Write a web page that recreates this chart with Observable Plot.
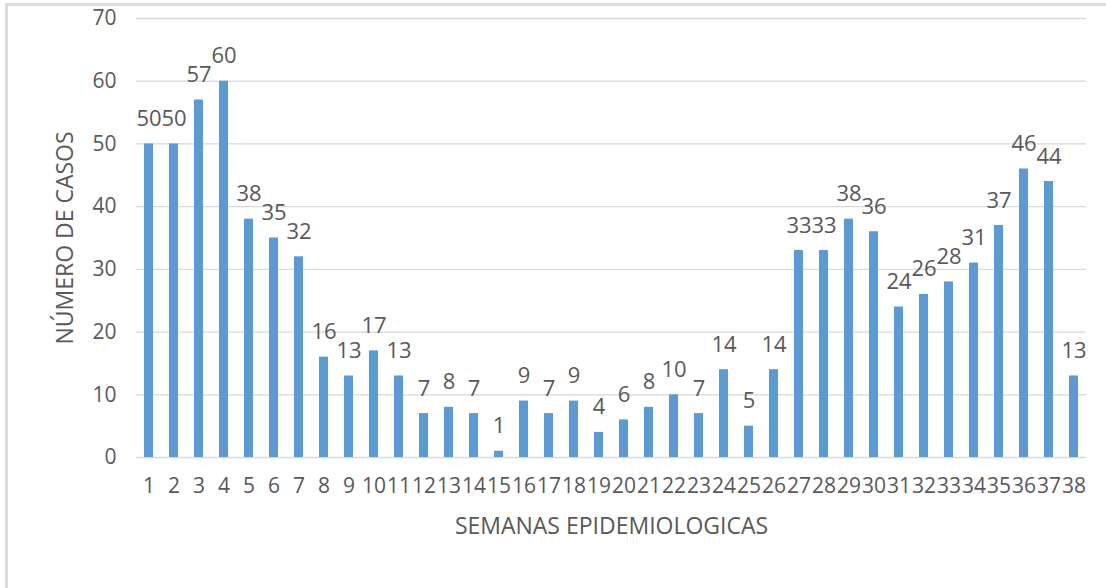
<!DOCTYPE html>
<html>
<head>
<meta charset="utf-8">
<script src="https://cdn.jsdelivr.net/npm/d3@7"></script>
<script src="https://cdn.jsdelivr.net/npm/@observablehq/plot@0.6"></script>
<style>
  html, body { margin: 0; padding: 0; background: #fff; }
  #wrap { position: relative; width: 1106px; height: 588px; overflow: hidden; }
  #frame { position: absolute; left: 5px; top: 3px; right: -10px; bottom: -10px;
           border-left: 3px solid #dcdcdc; border-top: 3px solid #dcdcdc; pointer-events: none; }
  svg g[aria-label="y-axis tick label"], svg g[aria-label="x-axis tick label"] { font-size: 21px; }
  svg g[aria-label="y-axis tick label"] text, svg g[aria-label="x-axis tick label"] text { font-size: 21px; }
  svg g[aria-label="y-axis label"] text, svg g[aria-label="x-axis label"] text { font-size: 23px; }
</style>
</head>
<body>
<div id="wrap"><div id="frame"></div></div>
<script>
const semanas = Array.from({length: 38}, (_, i) => String(i + 1));
const casos = [50,50,57,60,38,35,32,16,13,17,13,7,8,7,1,9,7,9,4,6,8,10,7,14,5,14,33,33,38,36,24,26,28,31,37,46,44,13];
const yTicks = [0,10,20,30,40,50,60,70];
const yTitle = "NÚMERO DE CASOS";
const xTitle = "SEMANAS EPIDEMIOLOGICAS";

const data = semanas.map((s, i) => ({semana: s, casos: casos[i]}));
const font = "'Open Sans', sans-serif";

const chart = Plot.plot({
  width: 1106,
  height: 588,
  marginLeft: 136,
  marginRight: 20,
  marginTop: 18,
  marginBottom: 131,
  style: {fontFamily: font, color: "#595959", background: "transparent"},
  x: {domain: semanas, paddingInner: 0.66, paddingOuter: 0.33, label: null},
  y: {domain: [0, 70], label: null},
  marks: [
    Plot.ruleY(yTicks, {stroke: "#d9d9d9", strokeWidth: 1.3}),
    Plot.axisY({ticks: yTicks, tickSize: 0, tickPadding: 20, label: yTitle,
      labelAnchor: "center", labelArrow: "none", labelOffset: 80}),
    Plot.axisX({tickSize: 0, tickPadding: 21, label: xTitle,
      labelAnchor: "center", labelArrow: "none", labelOffset: 76}),
    Plot.barY(data, {x: "semana", y: "casos", fill: "#5b9bd5"}),
    Plot.text(data, {x: "semana", y: "casos", text: d => String(d.casos), dy: -25,
      lineAnchor: "middle", fontSize: 22, fill: "#595959"})
  ]
});
chart.style.position = "absolute";
chart.style.left = "0px";
chart.style.top = "0px";
document.getElementById("wrap").appendChild(chart);
</script>
</body>
</html>
